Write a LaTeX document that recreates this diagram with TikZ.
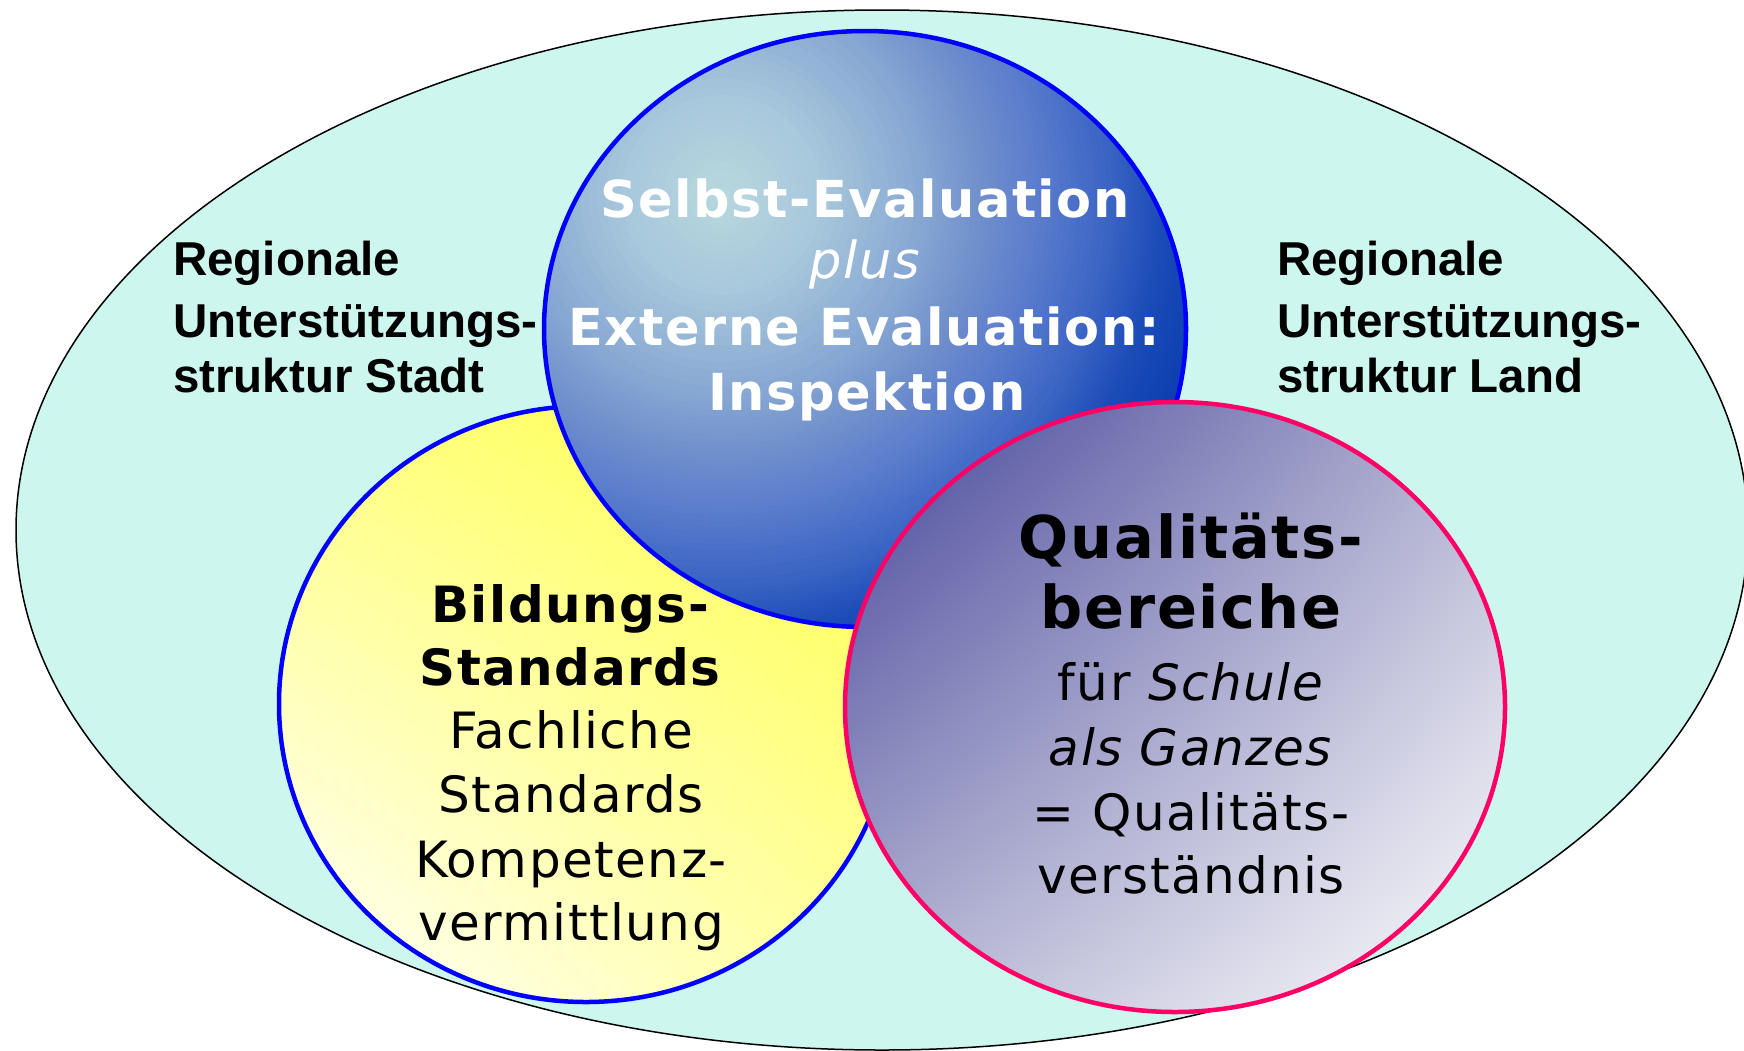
\documentclass[tikz,border=0pt]{standalone}
\usepackage{fontspec}
\usetikzlibrary{shadings}
\setmainfont{DejaVu Sans}
\newfontfamily\cfont{DejaVu Sans}[LetterSpace=3]
\newfontfamily\lfont{Liberation Sans}
\definecolor{outerfill}{HTML}{CCF6EE}
\definecolor{bluea}{HTML}{B8D8DE}
\definecolor{blueb}{HTML}{A8C8DC}
\definecolor{bluec}{HTML}{88A8D4}
\definecolor{blued}{HTML}{7090CC}
\definecolor{bluee}{HTML}{5A7CCC}
\definecolor{bluef}{HTML}{3A64C4}
\definecolor{blueg}{HTML}{1C4CB8}
\definecolor{blueh}{HTML}{0C3EB0}
\definecolor{ringblue}{HTML}{0000FF}
\definecolor{ringpink}{HTML}{FF0066}
\definecolor{yelA}{HTML}{FFFF84}
\definecolor{yelB}{HTML}{FFFF48}
\definecolor{yelC}{HTML}{FFFFFF}
\definecolor{yelD}{HTML}{FFFFA0}
\definecolor{purA}{HTML}{42429A}
\definecolor{purB}{HTML}{B4B4D2}
\definecolor{purC}{HTML}{B4B4D2}
\definecolor{purD}{HTML}{FFFFFF}
\tikzset{
  ring/.style={line width=4.5pt},
  sidelabel/.style={anchor=base west, inner sep=0pt, font=\lfont\bfseries\fontsize{47.5}{58}\selectfont},
  boldtxt/.style={anchor=base, inner sep=0pt, font=\cfont\bfseries\fontsize{50}{58}\selectfont},
  plaintxt/.style={anchor=base, inner sep=0pt, font=\cfont\fontsize{50}{58}\selectfont},
  bigtxt/.style={anchor=base, inner sep=0pt, font=\cfont\bfseries\fontsize{59}{66}\selectfont},
  bluetxt/.style={anchor=base, inner sep=0pt, white, font=\cfont\bfseries\fontsize{51}{58}\selectfont},
}
\begin{document}
\begin{tikzpicture}[x=1pt,y=-1pt]
\useasboundingbox (0,0) rectangle (1744,1050);
\clip (0,0) rectangle (1744,1050);
% outer ellipse
\filldraw[fill=outerfill, draw=black, line width=1.5pt] (882,530) ellipse [x radius=866pt, y radius=520pt];
% yellow ellipse
\shadedraw[upper left=yelA, upper right=yelB, lower left=yelC, lower right=yelD, draw=ringblue, ring] (586,704) ellipse [x radius=307pt, y radius=298pt];
% blue ellipse: radial gradient built from concentric discs
\begin{scope}
  \clip (865,329) ellipse [x radius=321pt, y radius=298pt];
  \foreach \ra/\rb/\ca/\cb in {500/620/blueh/blueh, 440/500/blueg/blueh, 390/440/bluef/blueg, 320/390/bluee/bluef, 260/320/blued/bluee, 200/260/bluec/blued, 100/200/blueb/bluec, 0/100/bluea/blueb}{
    \foreach \k in {12,11,...,1}{
      \pgfmathsetmacro\rr{\ra+(\rb-\ra)*\k/12}
      \pgfmathsetmacro\pp{100*\k/12}
      \fill[\cb!\pp!\ca] (722,195) circle [radius=\rr pt];
    }
  }
\end{scope}
\draw[draw=ringblue, ring] (865,329) ellipse [x radius=321pt, y radius=298pt];
% pink ellipse
\shadedraw[upper left=purA, upper right=purB, lower left=purC, lower right=purD, draw=ringpink, ring] (1175,707) ellipse [x radius=330pt, y radius=305pt];

% side labels
\node[sidelabel] (sl1) at (173,275) {Regionale};
\node[sidelabel] (sl2) at (173,337) {Unterstützungs-};
\node[sidelabel] (sl3) at (173,392) {struktur Stadt};
\node[sidelabel] (sr1) at (1277,275) {Regionale};
\node[sidelabel] (sr2) at (1277,337) {Unterstützungs-};
\node[sidelabel] (sr3) at (1277,392) {struktur Land};

% blue text
\node[bluetxt] (b1) at (865,217) {Selbst-Evaluation};
\node[bluetxt, font=\cfont\itshape\fontsize{51}{58}\selectfont] (b2) at (865,278) {plus};
\node[bluetxt] (b3) at (864,345) {Externe Evaluation:};
\node[bluetxt] (b4) at (867,410) {Inspektion};

% yellow text
\node[boldtxt] (y1) at (570,622) {Bildungs-};
\node[boldtxt] (y2) at (570,685) {Standards};
\node[plaintxt] (y3) at (571,748) {Fachliche};
\node[plaintxt] (y4) at (571,812) {Standards};
\node[plaintxt] (y5) at (571,877) {Kompetenz-};
\node[plaintxt] (y6) at (571,940) {vermittlung};

% pink text
\node[bigtxt] (p1) at (1191,558) {Qualitäts-};
\node[bigtxt] (p2) at (1191,628) {bereiche};
\node[plaintxt] (p3) at (1191,700) {für \textit{Schule}};
\node[plaintxt] (p4) at (1191,765) {\textit{als Ganzes}};
\node[plaintxt] (p5) at (1191,830) {= Qualitäts-};
\node[plaintxt] (p6) at (1191,893) {verständnis};
\end{tikzpicture}
\end{document}
